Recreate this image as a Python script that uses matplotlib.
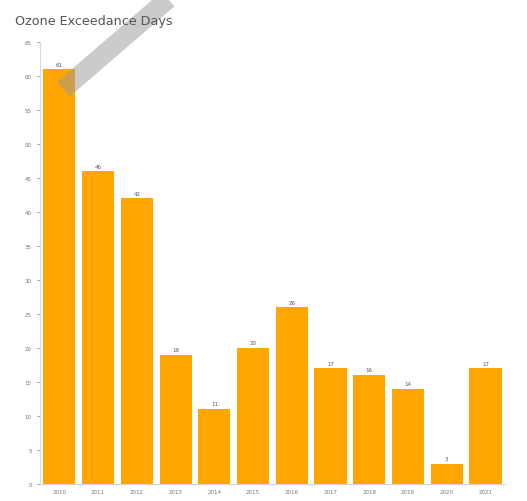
import matplotlib
matplotlib.use('Agg')
from matplotlib import pyplot as plt
from matplotlib.lines import Line2D
import numpy as np

years = ['2010', '2011', '2012', '2013', '2014', '2015', '2016', '2017', '2018', '2019', '2020', '2021']
days = [61, 46, 42, 19, 11, 20, 26, 17, 16, 14, 3, 17]
yticks = list(range(0, 70, 5))

fig = plt.figure(figsize=(5.27, 5.02), dpi=100)
ax = fig.add_axes([0.076, 0.034, 0.882, 0.88])

x = np.arange(len(years))
bars = ax.bar(x, days, width=0.83, color='#ffa700', zorder=2)
for b, v in zip(bars, days):
    ax.text(b.get_x() + b.get_width() / 2, v + 0.4, str(v), ha='center', va='bottom',
            fontsize=4, color='#555555')

ax.set_xlim(-0.5, len(years) - 0.5)
ax.set_ylim(0, 65)
ax.set_yticks(yticks)
ax.set_xticks(x)
ax.set_xticklabels(years)
ax.tick_params(axis='both', labelsize=4, colors='#777777', length=2, width=0.5, pad=4)
ax.tick_params(axis='x', length=0)

for s in ['top', 'right']:
    ax.spines[s].set_visible(False)
ax.spines['left'].set_color('#d8d8ec')
ax.spines['bottom'].set_color('#c8c8c8')
ax.spines['left'].set_linewidth(0.8)
ax.spines['bottom'].set_linewidth(0.6)

fig.text(0.028, 0.958, 'Ozone Exceedance Days', fontsize=9.2, color='#555555',
         ha='left', va='center')

# faint diagonal watermark stripe
fig.add_artist(Line2D([0.12, 0.33], [0.82, 1.01], transform=fig.transFigure,
                      color='#999999', alpha=0.5, linewidth=14, solid_capstyle='butt'))

plt.savefig('out.png', dpi=100)
